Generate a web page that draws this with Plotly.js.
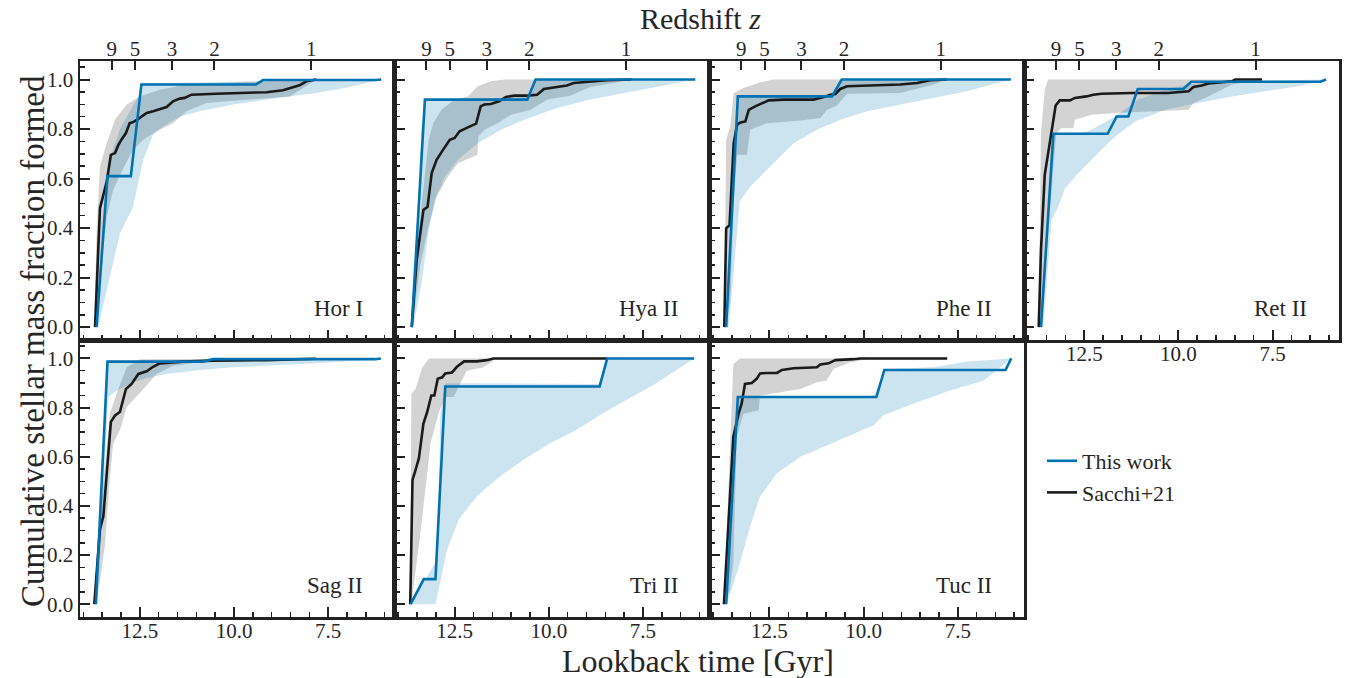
<!DOCTYPE html>
<html><head><meta charset="utf-8">
<script src="https://cdn.plot.ly/plotly-3.0.1.min.js"></script>
<style>html,body{margin:0;padding:0;background:#fff}#chart{width:1348px;height:678px}</style>
</head><body><div id="chart"></div>
<script>
// ---- data: [lookback time (Gyr), cumulative mass fraction] ----
const galaxies = ['Hor I','Hya II','Phe II','Ret II','Sag II','Tri II','Tuc II'];
const z_labels = ['9','5','3','2','1'];
const z_lookback = [13.25,12.63,11.65,10.52,7.95];

const horI_work = [[13.65,0],[13.36,0.61],[12.74,0.61],[12.46,0.98],[9.42,0.98],[9.23,0.998],[6.24,0.998],[6.09,1.0]];
const horI_sacchi = [[13.69,0],[13.56,0.48],[13.38,0.588],[13.27,0.696],[13.16,0.703],[13.07,0.736],[12.99,0.757],[12.87,0.784],[12.77,0.824],[12.68,0.828],[12.54,0.841],[12.32,0.865],[12.15,0.872],[11.97,0.881],[11.79,0.889],[11.62,0.912],[11.44,0.923],[11.31,0.926],[11.13,0.939],[10.47,0.943],[9.58,0.946],[9.14,0.949],[8.70,0.957],[8.52,0.966],[8.26,0.977],[8.08,0.993],[7.81,1.0]];
const horI_work_hi = [[13.63,0],[13.45,0.45],[13.36,0.62],[13.25,0.70],[13.03,0.80],[12.77,0.87],[12.55,0.93],[12.45,0.985],[10.91,0.989],[9.14,0.993],[7.37,0.997],[6.09,1.0]];
const horI_work_lo = [[13.61,0],[13.30,0.203],[13.03,0.378],[12.68,0.486],[12.41,0.676],[12.15,0.777],[11.88,0.811],[11.44,0.851],[10.91,0.872],[10.02,0.899],[9.14,0.919],[7.81,0.946],[6.93,0.970],[6.09,1.0]];
const horI_sacchi_hi = [[13.71,0],[13.65,0.378],[13.56,0.649],[13.38,0.743],[13.16,0.838],[12.85,0.899],[12.5,0.932],[11.97,0.959],[11.26,0.980],[10.02,0.989],[7.81,1.0]];
const horI_sacchi_lo = [[13.65,0],[13.52,0.243],[13.38,0.446],[13.21,0.554],[12.94,0.642],[12.68,0.716],[12.41,0.757],[12.06,0.791],[11.62,0.824],[11.26,0.872],[10.73,0.905],[9.58,0.919],[8.52,0.932],[8.08,0.973],[7.81,1.0]];

const hyaII_work = [[13.64,0],[13.29,0.919],[10.57,0.919],[10.35,1.0],[6.11,1.0]];
const hyaII_sacchi = [[13.64,0],[13.51,0.27],[13.33,0.473],[13.22,0.486],[13.11,0.622],[12.98,0.676],[12.81,0.716],[12.63,0.757],[12.50,0.764],[12.37,0.791],[12.15,0.807],[11.93,0.822],[11.81,0.892],[11.71,0.899],[11.54,0.901],[11.32,0.912],[11.14,0.930],[10.92,0.935],[10.57,0.935],[10.31,0.939],[10.13,0.962],[9.78,0.970],[9.52,0.976],[9.34,0.986],[8.90,0.992],[8.46,0.997],[7.81,1.0]];
const hyaII_work_hi = [[13.62,0],[13.51,0.378],[13.38,0.811],[13.29,0.919],[11.54,0.922],[10.48,0.932],[10.31,1.0],[6.11,1.0]];
const hyaII_work_lo = [[13.60,0],[13.38,0.176],[13.20,0.378],[13.03,0.514],[12.76,0.608],[12.41,0.676],[11.89,0.743],[11.27,0.797],[10.66,0.838],[9.78,0.885],[8.90,0.919],[8.03,0.946],[7.15,0.970],[6.11,1.0]];
const hyaII_sacchi_hi = [[13.66,0],[13.51,0.311],[13.19,0.757],[13.07,0.824],[12.85,0.878],[12.5,0.919],[12.15,0.932],[11.89,0.973],[11.54,0.993],[11.18,1.0],[8.03,1.0]];
const hyaII_sacchi_lo = [[13.62,0],[13.42,0.243],[13.20,0.405],[12.98,0.527],[12.68,0.608],[12.41,0.662],[11.90,0.696],[11.87,0.770],[11.71,0.797],[11.36,0.824],[11.01,0.858],[10.48,0.878],[10.04,0.919],[9.43,0.935],[8.90,0.970],[8.03,0.993]];

const pheII_work = [[13.65,0],[13.34,0.932],[10.84,0.932],[10.58,1.0],[6.09,1.0]];
const pheII_sacchi = [[13.70,0],[13.65,0.399],[13.56,0.412],[13.45,0.743],[13.36,0.818],[13.27,0.827],[13.14,0.831],[13.05,0.878],[12.88,0.892],[12.70,0.903],[12.52,0.916],[12.12,0.919],[11.33,0.919],[11.06,0.930],[10.88,0.939],[10.75,0.942],[10.62,0.962],[10.44,0.973],[9.91,0.976],[9.03,0.980],[8.58,0.986],[8.23,0.997],[7.79,1.0]];
const pheII_work_hi = [[13.63,0],[13.45,0.649],[13.34,0.932],[10.88,0.932],[10.62,1.0],[6.09,1.0]];
const pheII_work_lo = [[13.58,0],[13.29,0.507],[13.01,0.568],[12.57,0.635],[11.86,0.743],[11.24,0.797],[10.62,0.838],[9.91,0.872],[9.03,0.899],[8.14,0.926],[7.26,0.953],[6.09,1.0]];
const pheII_sacchi_hi = [[13.70,0],[13.65,0.757],[13.54,0.811],[13.45,0.946],[13.19,0.966],[12.74,0.989],[12.39,1.0],[7.79,1.0]];
const pheII_sacchi_lo = [[13.67,0],[13.54,0.108],[13.45,0.514],[13.36,0.696],[13.10,0.696],[13.01,0.797],[12.57,0.824],[11.68,0.835],[11.15,0.845],[10.97,0.878],[10.71,0.895],[10.44,0.943],[9.03,0.946],[8.14,0.980],[7.79,1.0]];

const retII_work = [[13.65,0],[13.32,0.781],[11.88,0.781],[11.64,0.851],[11.33,0.851],[11.08,0.962],[9.87,0.962],[9.66,0.991],[6.23,0.991],[6.08,1.0]];
const retII_sacchi = [[13.71,0],[13.65,0.311],[13.55,0.615],[13.41,0.757],[13.26,0.895],[13.15,0.916],[12.88,0.916],[12.75,0.926],[12.44,0.932],[12.26,0.939],[12.04,0.943],[11.24,0.946],[10.27,0.946],[9.73,0.953],[9.60,0.970],[9.38,0.976],[9.20,0.984],[8.58,0.993],[8.49,1.0],[7.78,1.0]];
const retII_work_hi = [[13.63,0],[13.37,0.757],[13.28,0.784],[12.75,0.784],[12.39,0.791],[11.68,0.851],[11.06,0.919],[10.35,0.959],[9.73,0.980],[9.02,0.993],[6.08,1.0]];
const retII_work_lo = [[13.59,0],[13.37,0.432],[13.19,0.486],[13.01,0.561],[12.66,0.622],[12.13,0.703],[11.68,0.770],[11.15,0.831],[10.35,0.878],[9.47,0.905],[8.58,0.932],[7.70,0.953],[6.81,0.973],[6.08,1.0]];
const retII_sacchi_hi = [[13.71,0],[13.65,0.784],[13.55,0.959],[13.46,1.0],[7.78,1.0]];
const retII_sacchi_lo = [[13.63,0],[13.46,0.378],[13.32,0.649],[13.24,0.784],[13.10,0.804],[12.79,0.804],[12.75,0.838],[12.30,0.858],[11.68,0.865],[10.80,0.872],[9.73,0.878],[9.60,0.905],[9.29,0.926],[8.58,0.980],[7.78,1.0]];

const sagII_work = [[13.67,0],[13.36,0.987],[10.82,0.987],[10.56,0.997],[6.25,0.997],[6.10,1.0]];
const sagII_sacchi = [[13.71,0],[13.56,0.304],[13.47,0.358],[13.38,0.520],[13.27,0.742],[13.16,0.768],[13.03,0.782],[12.87,0.876],[12.72,0.896],[12.54,0.937],[12.32,0.948],[12.15,0.966],[11.97,0.980],[11.35,0.987],[10.56,0.991],[9.14,0.993],[7.82,0.999]];
const sagII_work_hi = [[13.67,0],[13.36,0.991],[10.91,0.993],[6.10,1.0]];
const sagII_work_lo = [[13.63,0],[13.47,0.439],[13.34,0.843],[13.12,0.869],[12.68,0.903],[12.23,0.923],[11.79,0.937],[10.91,0.953],[10.03,0.964],[9.14,0.970],[7.82,0.980],[6.10,0.997]];
const sagII_sacchi_hi = [[13.73,0],[13.60,0.304],[13.43,0.546],[13.30,0.775],[13.12,0.856],[12.85,0.964],[12.50,0.997],[7.82,1.0]];
const sagII_sacchi_lo = [[13.65,0],[13.43,0.237],[13.30,0.506],[13.21,0.654],[13.03,0.708],[12.85,0.802],[12.59,0.843],[12.32,0.890],[12.06,0.937],[11.62,0.970],[10.91,0.984],[7.82,0.995]];

const triII_work = [[13.67,0],[13.32,0.102],[13.01,0.102],[12.75,0.886],[8.65,0.886],[8.45,1.0],[6.14,1.0]];
const triII_sacchi = [[13.68,0],[13.62,0.506],[13.54,0.546],[13.45,0.594],[13.33,0.735],[13.23,0.782],[13.12,0.849],[13.04,0.849],[12.95,0.917],[12.83,0.923],[12.75,0.939],[12.57,0.943],[12.44,0.966],[12.25,0.988],[11.91,0.988],[11.65,0.993],[11.47,1.0],[8.45,1.0]];
const triII_work_hi = [[13.67,0],[13.32,0.089],[12.96,0.183],[12.88,0.775],[12.75,0.899],[8.67,0.896],[8.45,1.0],[6.14,1.0]];
const triII_work_lo = [[13.67,0],[13.01,0],[12.70,0.223],[12.39,0.345],[11.91,0.439],[11.30,0.520],[10.68,0.587],[9.98,0.654],[9.28,0.708],[8.58,0.775],[8.05,0.822],[7.18,0.896],[6.14,1.0]];
const triII_sacchi_hi = [[13.68,0],[13.65,0.856],[13.54,0.876],[13.36,0.964],[13.18,1.0],[11.56,1.0]];
const triII_sacchi_lo = [[13.65,0],[13.40,0.304],[13.14,0.654],[12.92,0.782],[12.75,0.843],[12.53,0.843],[12.35,0.896],[12.18,0.950],[11.74,0.964],[11.47,0.991],[11.56,1.0]];

const tucII_work = [[13.65,0],[13.34,0.843],[9.66,0.843],[9.45,0.953],[6.23,0.953],[6.08,1.0]];
const tucII_sacchi = [[13.71,0],[13.59,0.331],[13.46,0.681],[13.32,0.775],[13.24,0.816],[13.15,0.896],[12.97,0.900],[12.84,0.917],[12.75,0.939],[12.57,0.941],[12.30,0.941],[12.17,0.953],[11.86,0.960],[11.24,0.964],[11.15,0.975],[10.93,0.980],[10.75,0.993],[10.27,0.997],[10.09,1.0],[7.78,1.0]];
const tucII_work_hi = [[13.65,0],[13.46,0.573],[13.34,0.843],[9.73,0.843],[9.45,0.957],[8.14,0.964],[7.25,0.988],[6.08,1.0]];
const tucII_work_lo = [[13.63,0],[13.28,0.170],[13.01,0.318],[12.75,0.439],[12.30,0.533],[11.68,0.600],[10.98,0.648],[10.35,0.688],[9.73,0.728],[9.47,0.769],[8.58,0.822],[7.70,0.870],[6.81,0.910],[6.08,1.0]];
const tucII_sacchi_hi = [[13.71,0],[13.50,0.843],[13.46,0.977],[13.28,1.0],[9.91,1.0]];
const tucII_sacchi_lo = [[13.68,0],[13.55,0.062],[13.46,0.170],[13.37,0.681],[13.19,0.775],[12.79,0.789],[12.75,0.849],[12.22,0.863],[11.68,0.876],[11.24,0.903],[10.98,0.910],[10.80,0.957],[10.35,0.984],[9.91,0.997]];

const workLines = [horI_work, hyaII_work, pheII_work, retII_work, sagII_work, triII_work, tucII_work];
const sacchiLines = [horI_sacchi, hyaII_sacchi, pheII_sacchi, retII_sacchi, sagII_sacchi, triII_sacchi, tucII_sacchi];
const workHi = [horI_work_hi, hyaII_work_hi, pheII_work_hi, retII_work_hi, sagII_work_hi, triII_work_hi, tucII_work_hi];
const workLo = [horI_work_lo, hyaII_work_lo, pheII_work_lo, retII_work_lo, sagII_work_lo, triII_work_lo, tucII_work_lo];
const sacchiHi = [horI_sacchi_hi, hyaII_sacchi_hi, pheII_sacchi_hi, retII_sacchi_hi, sagII_sacchi_hi, triII_sacchi_hi, tucII_sacchi_hi];
const sacchiLo = [horI_sacchi_lo, hyaII_sacchi_lo, pheII_sacchi_lo, retII_sacchi_lo, sagII_sacchi_lo, triII_sacchi_lo, tucII_sacchi_lo];

// ---- styling / layout ----
const W = 1348, H = 678;
const FONT = '"Liberation Serif", "DejaVu Serif", serif';
const TXT = '#262626';
const AX = '#222222';
const BLUE = '#0072b2';
const colLeft = 80, colW = 314.8;
const rowsPx = [[61, 340], [340, 617]];
const XR = [14.09, 5.73];
const YR = [-0.052, 1.075];

const xs = p => p.map(d => d[0]);
const ys = p => p.map(d => d[1]);
function band(hi, lo) {
  const r = lo.slice().reverse();
  return {x: xs(hi).concat(xs(r)), y: ys(hi).concat(ys(r))};
}

const traces = [];
const layout = {
  width: W, height: H,
  margin: {l: 0, r: 0, t: 0, b: 0},
  paper_bgcolor: '#fff', plot_bgcolor: '#fff',
  font: {family: FONT, color: TXT},
  showlegend: true,
  legend: {x: 1042 / W, y: 1 - 440 / H, xanchor: 'left', yanchor: 'top',
           font: {family: FONT, size: 22, color: TXT}, bgcolor: 'rgba(0,0,0,0)',
           itemwidth: 30, tracegroupgap: 0},
  annotations: []
};

galaxies.forEach((name, i) => {
  const n = i + 1;
  const row = i < 4 ? 0 : 1;
  const col = i < 4 ? i : i - 4;
  const xid = n === 1 ? 'x' : 'x' + n, yid = n === 1 ? 'y' : 'y' + n;
  const xkey = n === 1 ? 'xaxis' : 'xaxis' + n, ykey = n === 1 ? 'yaxis' : 'yaxis' + n;
  const x0 = colLeft + col * colW, x1 = x0 + colW;
  const [ty, by] = rowsPx[row];

  const gb = band(sacchiHi[i], sacchiLo[i]);
  traces.push({x: gb.x, y: gb.y, xaxis: xid, yaxis: yid, mode: 'lines', fill: 'toself',
    fillcolor: 'rgba(128,128,128,0.35)', line: {width: 0, color: 'rgba(0,0,0,0)'},
    hoverinfo: 'skip', showlegend: false});
  const bb = band(workHi[i], workLo[i]);
  traces.push({x: bb.x, y: bb.y, xaxis: xid, yaxis: yid, mode: 'lines', fill: 'toself',
    fillcolor: 'rgba(0,114,178,0.2)', line: {width: 0, color: 'rgba(0,0,0,0)'},
    hoverinfo: 'skip', showlegend: false});
  traces.push({x: xs(sacchiLines[i]), y: ys(sacchiLines[i]), xaxis: xid, yaxis: yid, mode: 'lines',
    line: {color: '#1a1a1a', width: 2.6}, name: 'Sacchi+21', legendgroup: 's',
    legendrank: 2, showlegend: i === 0});
  traces.push({x: xs(workLines[i]), y: ys(workLines[i]), xaxis: xid, yaxis: yid, mode: 'lines',
    line: {color: BLUE, width: 2.6}, name: 'This work', legendgroup: 'w',
    legendrank: 1, showlegend: i === 0});

  const showX = (row === 1) || (i === 3);
  layout[xkey] = {
    domain: [x0 / W, x1 / W], anchor: yid, range: XR, autorange: false,
    tick0: 0, dtick: 2.5, tickformat: '.1f',
    ticks: 'inside', ticklen: 10, tickwidth: 2, tickcolor: AX,
    minor: {ticks: 'inside', ticklen: 5, tickwidth: 1.5, tickcolor: AX, tick0: 0, dtick: 0.5, showgrid: false},
    showline: true, linewidth: 2.5, linecolor: AX, mirror: true,
    showgrid: false, zeroline: false, showticklabels: showX, ticklabelstandoff: -7,
    tickfont: {family: FONT, size: 21, color: TXT}, fixedrange: true
  };
  layout[ykey] = {
    domain: [1 - by / H, 1 - ty / H], anchor: xid, range: YR, autorange: false,
    tick0: 0, dtick: 0.2, tickformat: '.1f',
    ticks: 'inside', ticklen: 10, tickwidth: 2, tickcolor: AX,
    minor: {ticks: 'inside', ticklen: 5, tickwidth: 1.5, tickcolor: AX, tick0: 0, dtick: 0.05, showgrid: false},
    showline: true, linewidth: 2.5, linecolor: AX, mirror: true,
    showgrid: false, zeroline: false, showticklabels: col === 0,
    tickfont: {family: FONT, size: 21, color: TXT}, fixedrange: true
  };

  // redshift axis on top of top-row panels
  if (row === 0) {
    const zn = 8 + i;
    layout['xaxis' + zn] = {
      overlaying: xid, anchor: yid, side: 'top', range: XR, autorange: false,
      tickmode: 'array', tickvals: z_lookback, ticktext: z_labels,
      ticks: 'inside', ticklen: 9, tickwidth: 2, tickcolor: AX,
      showline: false, showgrid: false, zeroline: false, ticklabelstandoff: 0,
      tickfont: {family: FONT, size: 21, color: TXT}, fixedrange: true
    };
    traces.push({x: [], y: [], xaxis: 'x' + zn, yaxis: yid, mode: 'lines', showlegend: false, hoverinfo: 'skip'});
  }

  layout.annotations.push({
    text: name, xref: xid + ' domain', yref: yid + ' domain',
    x: 1 - 30 / colW, y: 32 / (by - ty), xanchor: 'right', yanchor: 'middle',
    showarrow: false, font: {family: FONT, size: 23, color: TXT}
  });
});

layout.annotations.push(
  {text: 'Redshift <i>z</i>', xref: 'paper', yref: 'paper', x: 700 / W, y: 1 - 18 / H,
   xanchor: 'center', yanchor: 'middle', showarrow: false, borderpad: 0, font: {family: FONT, size: 30, color: TXT}},
  {text: 'Lookback time [Gyr]', xref: 'paper', yref: 'paper', x: 698 / W, y: 1 - 661 / H,
   xanchor: 'center', yanchor: 'middle', showarrow: false, font: {family: FONT, size: 32, color: TXT}},
  {text: 'Cumulative stellar mass fraction formed', xref: 'paper', yref: 'paper', x: 33 / W, y: 1 - 341 / H,
   xanchor: 'center', yanchor: 'middle', textangle: -90, showarrow: false, font: {family: FONT, size: 33, color: TXT}}
);

Plotly.newPlot('chart', traces, layout, {staticPlot: true, displayModeBar: false});
</script>
</body></html>
